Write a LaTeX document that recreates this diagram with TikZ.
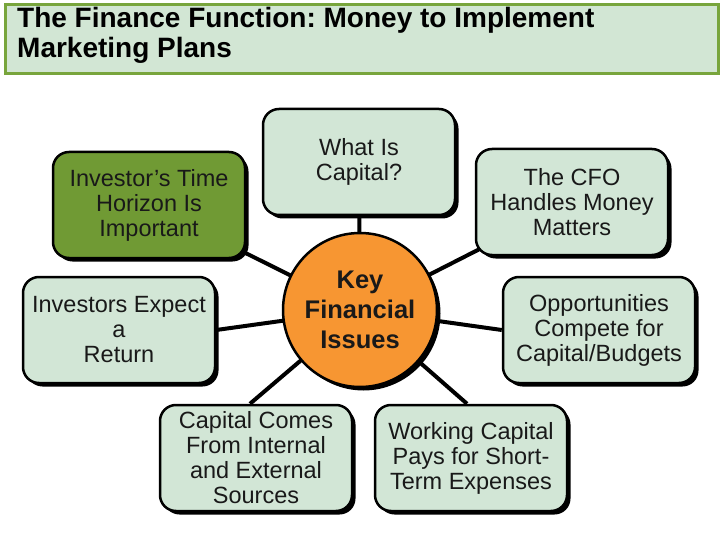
\documentclass[tikz,border=0pt]{standalone}
\usepackage{fontspec}
\setmainfont{Liberation Sans}
\frenchspacing
\usetikzlibrary{shadows}
\definecolor{lgreen}{RGB}{210,230,214}
\definecolor{ogreen}{RGB}{112,154,52}
\definecolor{orng}{RGB}{247,150,50}
\definecolor{tgreen}{RGB}{120,165,60}
\definecolor{tbg}{RGB}{210,230,212}
\definecolor{ink}{RGB}{25,25,25}
\pgfdeclarelayer{background}
\pgfsetlayers{background,main}
\tikzset{
  topic/.style={draw=black, line width=2.5pt, rounded corners=16pt, fill=lgreen,
    minimum width=192pt, minimum height=106pt, align=center, inner sep=2pt,
    text=ink, font=\fontsize{23.5}{25}\selectfont,
    drop shadow={shadow xshift=3.5pt, shadow yshift=-3.5pt, fill=black, opacity=1}},
  hub/.style={circle, draw=black, line width=2.5pt, fill=orng, minimum size=154pt,
    align=center, inner sep=0pt, text=ink, font=\bfseries\fontsize{25.5}{30}\selectfont,
    drop shadow={shadow xshift=3.5pt, shadow yshift=-3.5pt, fill=black, opacity=1}},
  link/.style={line width=4pt, draw=black},
  titlebox/.style={draw=tgreen, line width=3pt, fill=tbg, anchor=north west,
    minimum width=713pt, minimum height=69pt, inner sep=0pt},
  titletext/.style={anchor=north west, align=left, inner sep=0pt,
    font=\bfseries\fontsize{28}{30}\selectfont}
}
\begin{document}
\begin{tikzpicture}[x=1pt,y=-1pt]
\useasboundingbox (0,0) rectangle (720,540);
\node[titlebox] (title) at (3.5,3.5) {};
\node[titletext] (ttext) at (17,7) {The Finance Function: Money to Implement\\Marketing Plans};

\node[topic, fill=ogreen] (horizon) at (149,205) {Investor’s Time\\Horizon Is\\Important};
\node[topic] (capital) at (359,162) {What Is\\Capital?};
\node[topic] (cfo) at (572,202) {The CFO\\Handles Money\\Matters};
\node[topic] (expect) at (119,330) {Investors Expect\\a\\Return};
\node[hub] (key) at (360,310) {Key\\Financial\\Issues};
\node[topic] (opp) at (599,330) {Opportunities\\Compete for\\Capital/Budgets};
\node[topic] (sources) at (256,458) {Capital Comes\\From Internal\\and External\\Sources};
\node[topic] (working) at (471,458) {Working Capital\\Pays for Short-\\Term Expenses};

\begin{pgfonlayer}{background}
\draw[link] (key.center) -- (horizon.center);
\draw[link] (key.center) -- (capital.center);
\draw[link] (key.center) -- (cfo.center);
\draw[link] (key.center) -- (expect.east);
\draw[link] (key.center) -- (opp.west);
\draw[link] (key.center) -- ([xshift=-6pt]sources.north);
\draw[link] (key.center) -- ([xshift=-4pt]working.north);
\end{pgfonlayer}
\end{tikzpicture}
\end{document}
